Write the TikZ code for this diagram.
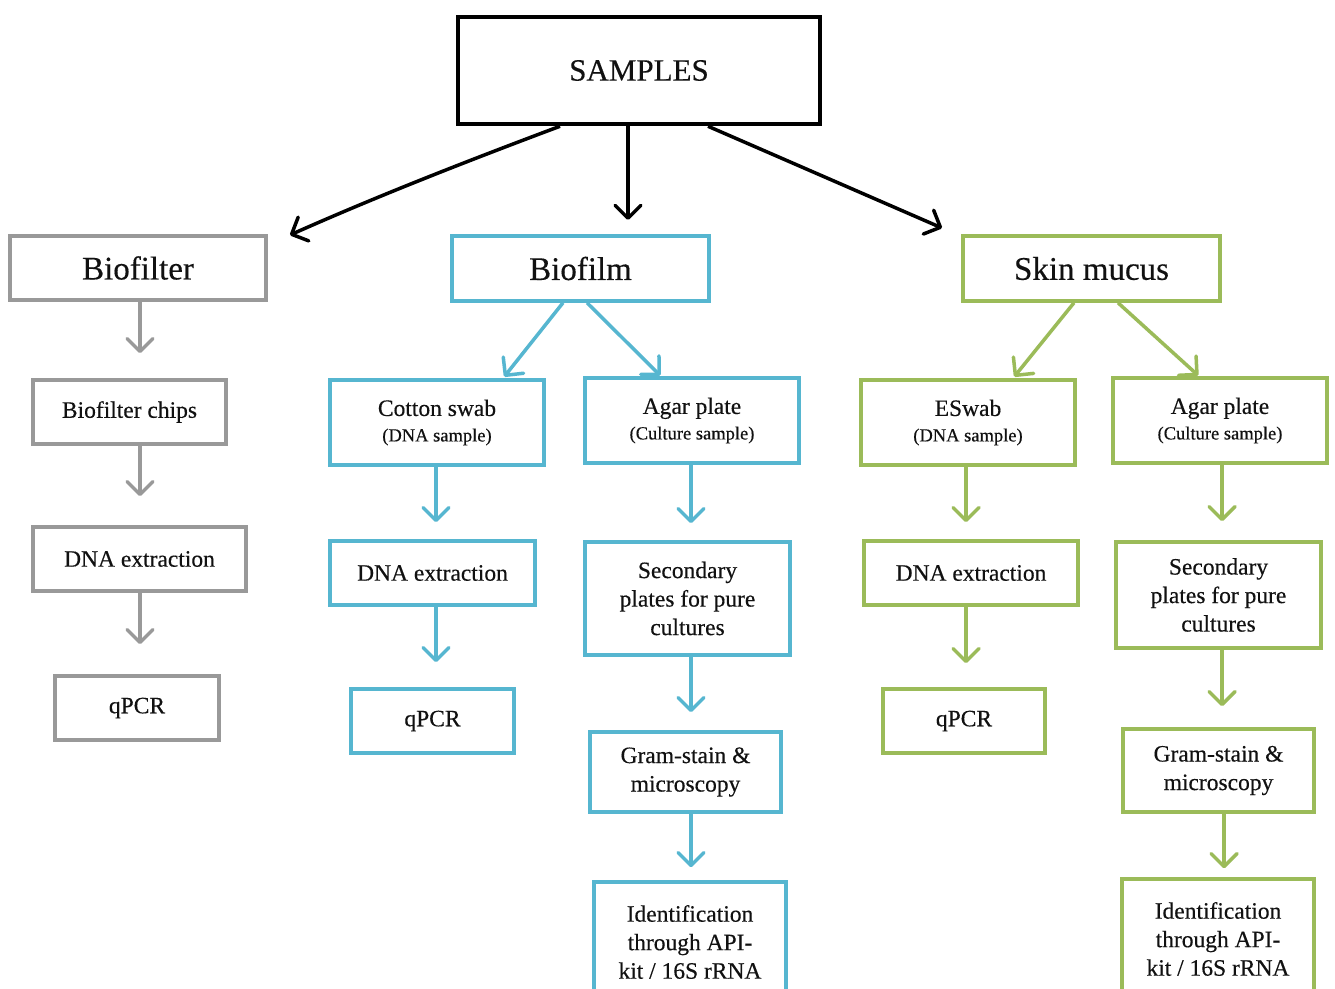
\documentclass[tikz,border=0pt]{standalone}
\usepackage{fontspec}
\setmainfont{Liberation Serif}[FakeBold=0.35]
\usetikzlibrary{arrows.meta}
\definecolor{bgray}{HTML}{999999}
\definecolor{bcyan}{HTML}{56B6D0}
\definecolor{bgreen}{HTML}{9BBB59}
\definecolor{txt}{HTML}{111111}
\newcommand{\subtxt}[1]{{\fontsize{18.5}{20}\selectfont #1}}
\begin{document}
\begin{tikzpicture}[x=1pt,y=-1pt,
  box/.style={draw, rectangle, line width=3.5pt, align=center, text=txt, inner sep=0pt, fill=white},
  gbox/.style={box, draw=bgray},
  cbox/.style={box, draw=bcyan},
  lbox/.style={box, draw=bgreen},
  hfont/.style={font=\fontsize{33}{36}\selectfont},
  bfont/.style={font=\fontsize{23.5}{28.5}\selectfont},
  arr/.style={line width=3.5pt, -{Straight Barb[length=13pt,width=26pt,round]}},
  karr/.style={arr, draw=black},
  garr/.style={arr, draw=bgray},
  carr/.style={arr, draw=bcyan},
  larr/.style={arr, draw=bgreen}
]
\useasboundingbox (0,0) rectangle (1335,988);
\clip (0,0) rectangle (1335,988);
\fill[white] (0,0) rectangle (1335,988);

% top
\node[box, draw=black, line width=4.5pt, minimum width=362pt, minimum height=107pt, font=\fontsize{31}{34}\selectfont] (samples) at (639,70.5) {SAMPLES};

% heads
\node[gbox, hfont, minimum width=256pt, minimum height=64pt] (bfilter) at (138,268) {Biofilter};
\node[cbox, hfont, minimum width=257pt, minimum height=65pt] (bfilm) at (580.5,268.5) {Biofilm};
\node[lbox, hfont, minimum width=257pt, minimum height=65pt] (skin) at (1091.5,268.5) {Skin mucus};

% biofilter column
\node[gbox, bfont, minimum width=193pt, minimum height=64pt] (chips) at (129.5,412) {Biofilter chips};
\node[gbox, bfont, minimum width=213pt, minimum height=64pt] (bdna) at (139.5,559) {DNA extraction};
\node[gbox, bfont, minimum width=164pt, minimum height=64pt] (bqpcr) at (137,708) {qPCR};

% biofilm column
\node[cbox, bfont, minimum width=214pt, minimum height=85pt] (cotton) at (437,422.5) {Cotton swab\\[-3pt]\subtxt{(DNA sample)}};
\node[cbox, bfont, minimum width=214pt, minimum height=85pt] (agar1) at (692,420.5) {Agar plate\\[-3pt]\subtxt{(Culture sample)}};
\node[cbox, bfont, minimum width=205pt, minimum height=64pt] (cdna) at (432.5,573) {DNA extraction};
\node[cbox, bfont, minimum width=163pt, minimum height=64pt] (cqpcr) at (432.5,721) {qPCR};
\node[cbox, bfont, minimum width=205pt, minimum height=113pt] (sec1) at (687.5,598.5) {Secondary\\plates for pure\\cultures};
\node[cbox, bfont, minimum width=191pt, minimum height=80pt] (gram1) at (685.5,772) {Gram-stain \&\\microscopy};
\node[cbox, bfont, minimum width=192pt, minimum height=120pt] (id1) at (690,942) {Identification\\through API-\\kit / 16S rRNA};

% skin column
\node[lbox, bfont, minimum width=214pt, minimum height=85pt] (eswab) at (968,422.5) {ESwab\\[-3pt]\subtxt{(DNA sample)}};
\node[lbox, bfont, minimum width=214pt, minimum height=85pt] (agar2) at (1220,420.5) {Agar plate\\[-3pt]\subtxt{(Culture sample)}};
\node[lbox, bfont, minimum width=214pt, minimum height=64pt] (sdna) at (971,573) {DNA extraction};
\node[lbox, bfont, minimum width=162pt, minimum height=64pt] (sqpcr) at (964,721) {qPCR};
\node[lbox, bfont, minimum width=205pt, minimum height=106pt] (sec2) at (1218.5,595) {Secondary\\plates for pure\\cultures};
\node[lbox, bfont, minimum width=191pt, minimum height=83pt] (gram2) at (1218.5,770.5) {Gram-stain \&\\microscopy};
\node[lbox, bfont, minimum width=192pt, minimum height=120pt] (id2) at (1218,939) {Identification\\through API-\\kit / 16S rRNA};

% top arrows
\coordinate (tl) at (290,235);
\coordinate (tm) at (628,220);
\coordinate (tr) at (942,228);
\draw[karr] (samples.south -| 560,0) .. controls (470,160) and (380,195) .. (tl);
\draw[karr] (samples.south -| 628,0) -- (tm);
\draw[karr] (samples.south -| 708,0) -- (tr);

% biofilter arrows
\draw[garr, shorten >=25pt] (bfilter.south -| 140,0) -- (chips.north -| 140,0);
\draw[garr, shorten >=29pt] (chips.south -| 140,0) -- (bdna.north -| 140,0);
\draw[garr, shorten >=30pt] (bdna.south -| 140,0) -- (bqpcr.north -| 140,0);

% biofilm arrows
\draw[carr, shorten >=2pt] (bfilm.south -| 563,0) -- (cotton.north -| 503,0);
\draw[carr, shorten >=1pt] (bfilm.south -| 587,0) -- (agar1.north -| 661,0);
\draw[carr, shorten >=17pt] (cotton.south -| 436,0) -- (cdna.north -| 436,0);
\draw[carr, shorten >=25pt] (cdna.south -| 436,0) -- (cqpcr.north -| 436,0);
\draw[carr, shorten >=17pt] (agar1.south -| 691,0) -- (sec1.north -| 691,0);
\draw[carr, shorten >=18pt] (sec1.south -| 691,0) -- (gram1.north -| 691,0);
\draw[carr, shorten >=13pt] (gram1.south -| 691,0) -- (id1.north -| 691,0);

% skin arrows
\draw[larr, shorten >=2pt] (skin.south -| 1074,0) -- (eswab.north -| 1013,0);
\draw[larr, shorten >=1pt] (skin.south -| 1118,0) -- (agar2.north -| 1199,0);
\draw[larr, shorten >=17pt] (eswab.south -| 966,0) -- (sdna.north -| 966,0);
\draw[larr, shorten >=24pt] (sdna.south -| 966,0) -- (sqpcr.north -| 966,0);
\draw[larr, shorten >=19pt] (agar2.south -| 1222,0) -- (sec2.north -| 1222,0);
\draw[larr, shorten >=21pt] (sec2.south -| 1222,0) -- (gram2.north -| 1222,0);
\draw[larr, shorten >=9pt] (gram2.south -| 1224,0) -- (id2.north -| 1224,0);
\end{tikzpicture}
\end{document}
